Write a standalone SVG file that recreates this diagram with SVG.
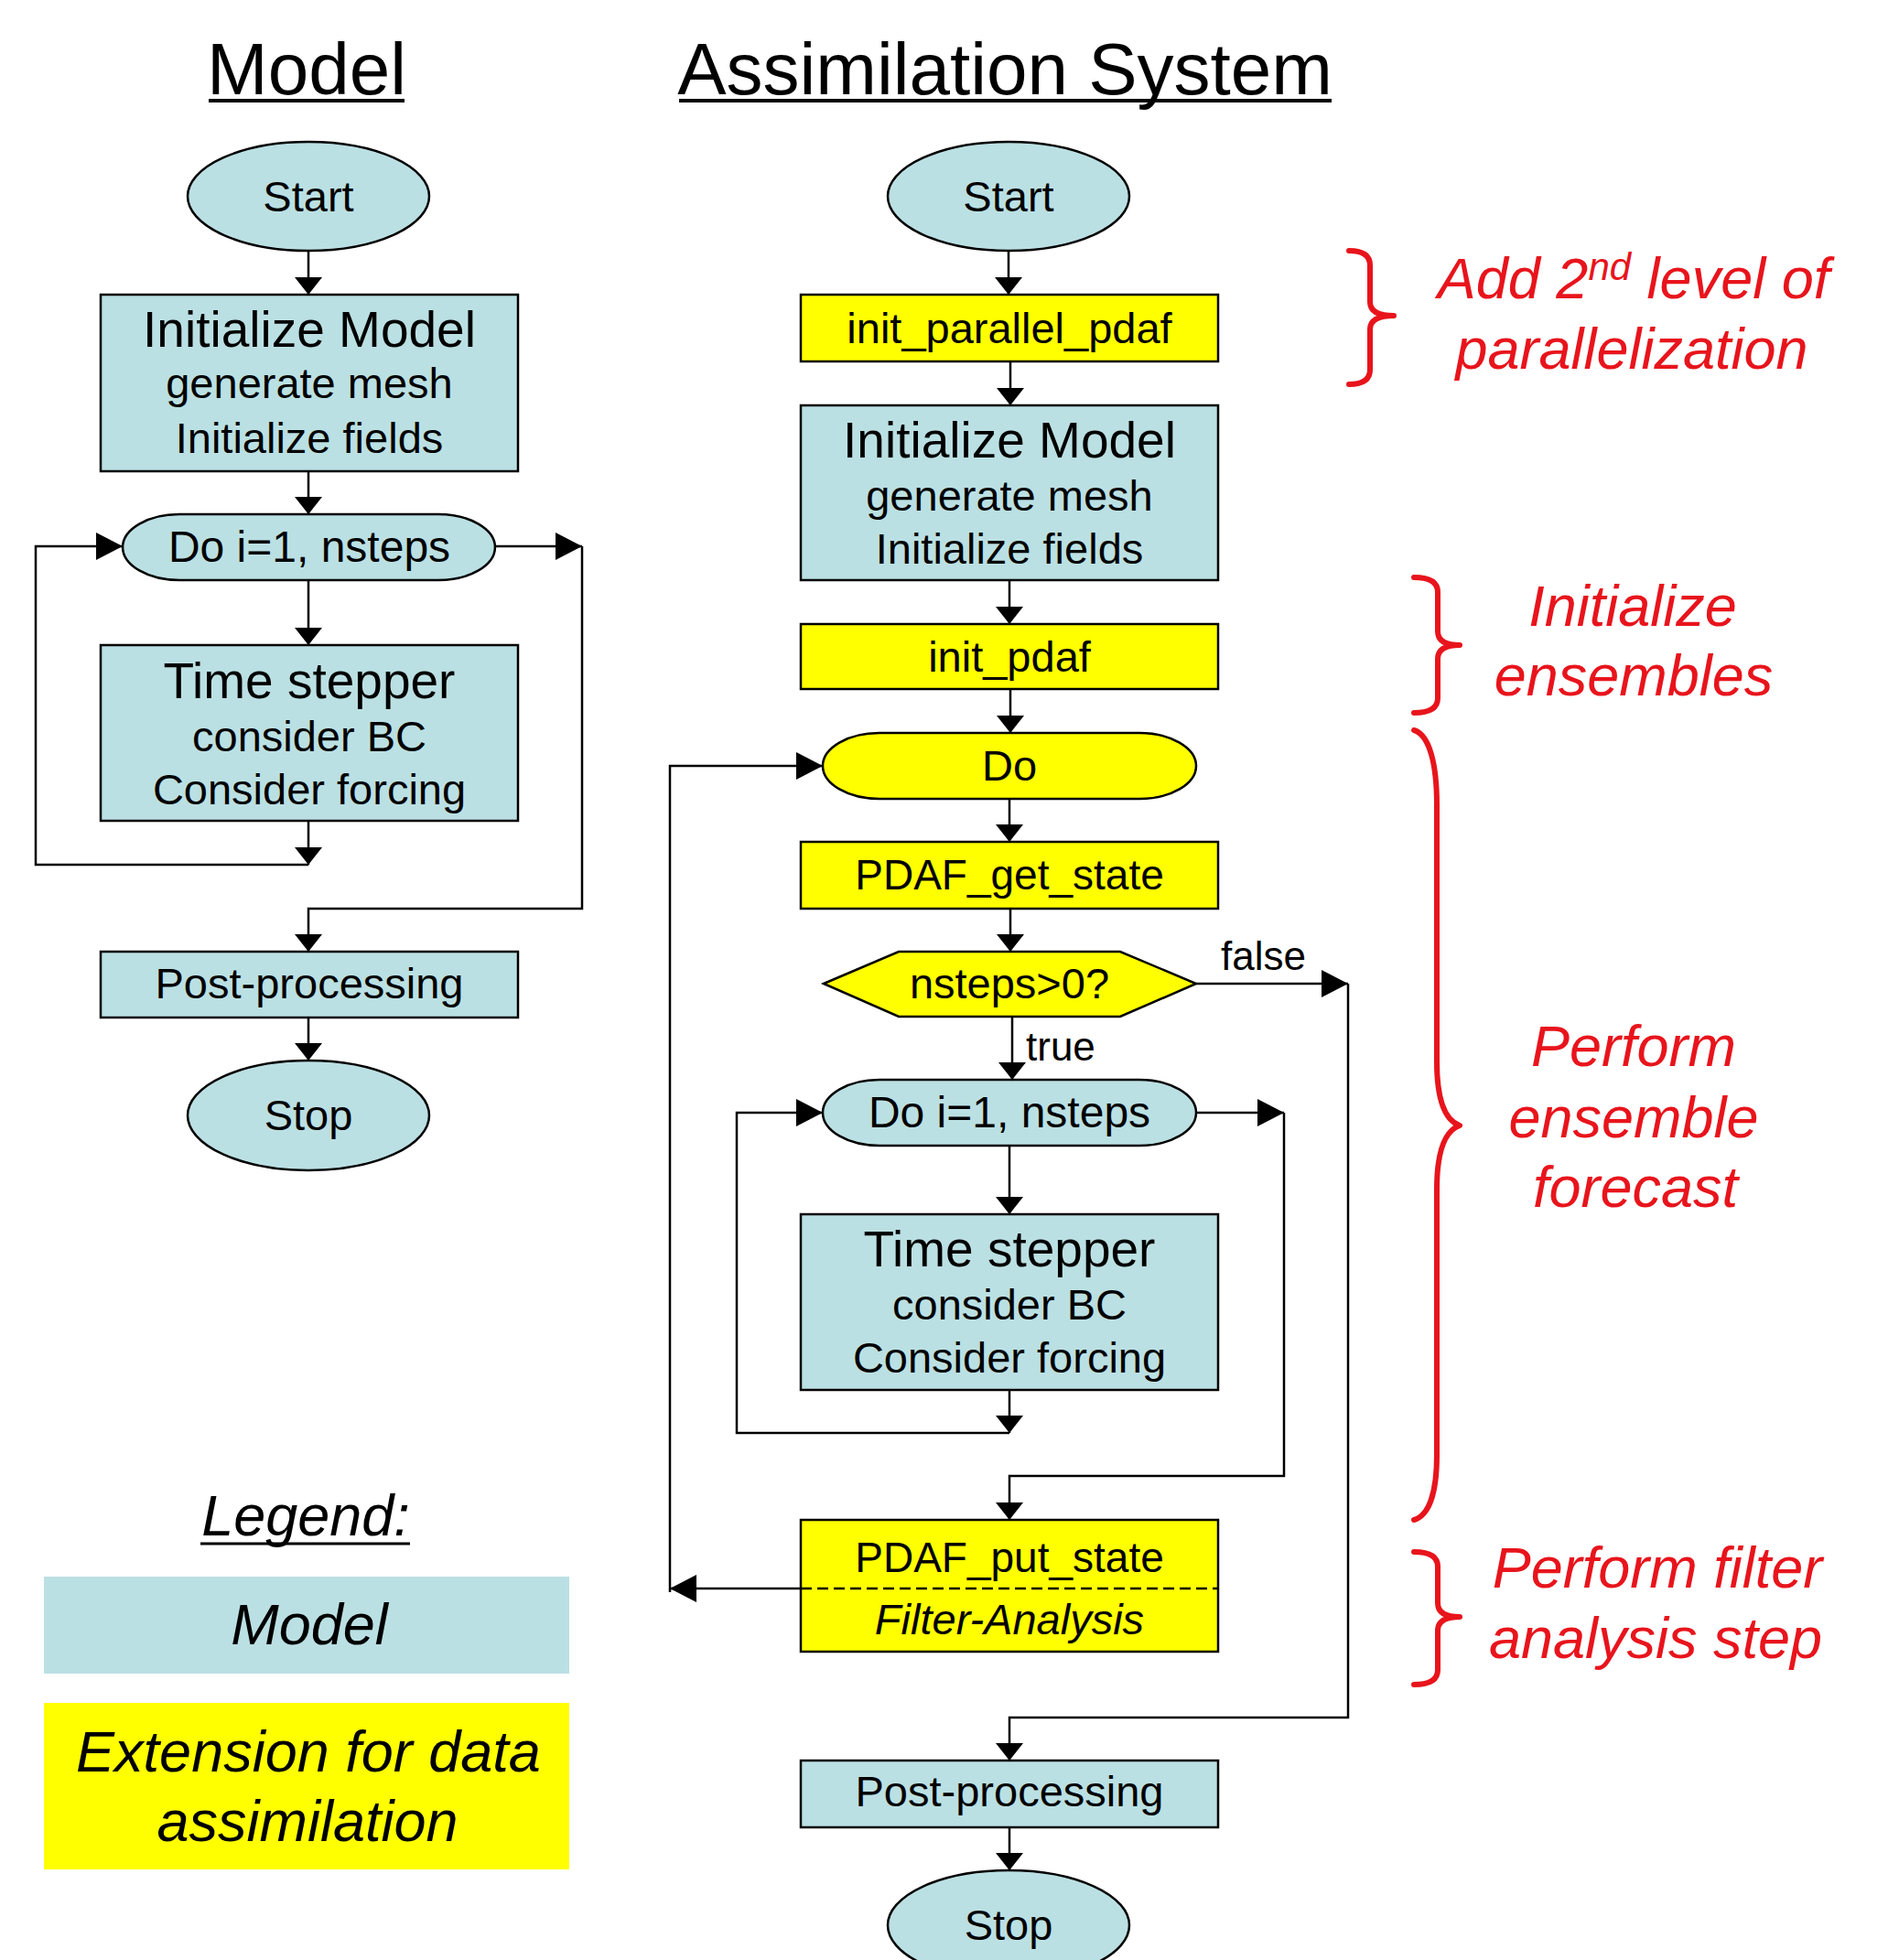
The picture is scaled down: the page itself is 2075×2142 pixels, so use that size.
<svg xmlns="http://www.w3.org/2000/svg" width="2075" height="2142" viewBox="0 0 2075 2142">
<style>
text{font-family:"Liberation Sans",Arial,sans-serif;fill:#000}
.m{text-anchor:middle}
.t{font-size:55px}
.s{font-size:47px}
.r{fill:#e8141c;font-style:italic;font-size:63px;text-anchor:middle}
.it{font-style:italic}
.teal{fill:#bbe0e3;stroke:#000;stroke-width:2.5}
.yel{fill:#ffff00;stroke:#000;stroke-width:2.5}
.c{fill:none;stroke:#000;stroke-width:2.5}
.br{fill:none;stroke:#e8141c;stroke-width:6;stroke-linecap:round;stroke-linejoin:round}
</style>
<defs>
<marker id="mv" markerUnits="userSpaceOnUse" markerWidth="20" markerHeight="32" refX="19" refY="15" orient="auto"><path d="M0,0 L19,15 L0,30 z" fill="#000"/></marker>
<marker id="mh" markerUnits="userSpaceOnUse" markerWidth="30" markerHeight="32" refX="29" refY="15" orient="auto"><path d="M0,0 L29,15 L0,30 z" fill="#000"/></marker>
</defs>
<rect width="2075" height="2142" fill="#fff"/>

<g id="titles">
<text x="335" y="103" class="m" font-size="80">Model</text>
<line x1="228" y1="110" x2="442" y2="110" stroke="#000" stroke-width="4"/>
<text x="1098" y="103" class="m" font-size="80">Assimilation System</text>
<line x1="742" y1="110" x2="1455" y2="110" stroke="#000" stroke-width="4"/>
</g>

<g id="connectors">
<line class="c" x1="337" y1="274" x2="337" y2="322" marker-end="url(#mv)"/>
<line class="c" x1="337" y1="515" x2="337" y2="562" marker-end="url(#mv)"/>
<line class="c" x1="337" y1="634" x2="337" y2="705" marker-end="url(#mv)"/>
<line class="c" x1="337" y1="897" x2="337" y2="945" marker-end="url(#mv)"/>
<path class="c" d="M337,945 H39 V597 H134" marker-end="url(#mh)"/>
<line class="c" x1="541" y1="597" x2="636" y2="597" marker-end="url(#mh)"/>
<path class="c" d="M636,597 V993 H337 V1040" marker-end="url(#mv)"/>
<line class="c" x1="337" y1="1112" x2="337" y2="1159" marker-end="url(#mv)"/>

<line class="c" x1="1102" y1="274" x2="1102" y2="322" marker-end="url(#mv)"/>
<line class="c" x1="1104" y1="395" x2="1104" y2="443" marker-end="url(#mv)"/>
<line class="c" x1="1103" y1="634" x2="1103" y2="682" marker-end="url(#mv)"/>
<line class="c" x1="1104" y1="753" x2="1104" y2="801" marker-end="url(#mv)"/>
<line class="c" x1="1103" y1="873" x2="1103" y2="920" marker-end="url(#mv)"/>
<line class="c" x1="1104" y1="993" x2="1104" y2="1040" marker-end="url(#mv)"/>
<line class="c" x1="1106" y1="1111" x2="1106" y2="1180" marker-end="url(#mv)"/>
<line class="c" x1="1307" y1="1075" x2="1473" y2="1075" marker-end="url(#mh)"/>
<path class="c" d="M1473,1075 V1877 H1103 V1924" marker-end="url(#mv)"/>
<line class="c" x1="1103" y1="1252" x2="1103" y2="1327" marker-end="url(#mv)"/>
<line class="c" x1="1103" y1="1519" x2="1103" y2="1566" marker-end="url(#mv)"/>
<path class="c" d="M1103,1566 H805 V1216 H899" marker-end="url(#mh)"/>
<line class="c" x1="1307" y1="1216" x2="1403" y2="1216" marker-end="url(#mh)"/>
<path class="c" d="M1403,1216 V1613 H1103 V1661" marker-end="url(#mv)"/>
<line class="c" x1="875" y1="1736" x2="732" y2="1736" marker-end="url(#mh)"/>
<path class="c" d="M732,1740 V837 H899" marker-end="url(#mh)"/>
<line class="c" x1="1103" y1="1997" x2="1103" y2="2044" marker-end="url(#mv)"/>
<text x="1334" y="1060" font-size="44">false</text>
<text x="1121" y="1159" font-size="44">true</text>
</g>

<g id="m-start"><ellipse class="teal" cx="337" cy="214.5" rx="132" ry="59.5"/><text x="337" y="231" class="m s">Start</text></g>
<g id="m-init"><rect class="teal" x="110" y="322" width="456" height="193"/>
<text x="338" y="379" class="m t">Initialize Model</text>
<text x="338" y="435" class="m s">generate mesh</text>
<text x="338" y="495" class="m s">Initialize fields</text></g>
<g id="m-do"><path class="teal" d="M196,562 H479 A62,36 0 0 1 479,634 H196 A62,36 0 0 1 196,562 Z"/><text x="338" y="614" class="m" font-size="48">Do i=1, nsteps</text></g>
<g id="m-time"><rect class="teal" x="110" y="705" width="456" height="192"/>
<text x="338" y="763" class="m t">Time stepper</text>
<text x="338" y="821" class="m s">consider BC</text>
<text x="338" y="879" class="m s">Consider forcing</text></g>
<g id="m-post"><rect class="teal" x="110" y="1040" width="456" height="72"/><text x="338" y="1091" class="m s">Post-processing</text></g>
<g id="m-stop"><ellipse class="teal" cx="337" cy="1219" rx="132" ry="60"/><text x="337" y="1235" class="m s">Stop</text></g>

<g id="a-start"><ellipse class="teal" cx="1102" cy="214.5" rx="132" ry="59.5"/><text x="1102" y="231" class="m s">Start</text></g>
<g id="a-initpar"><rect class="yel" x="875" y="322" width="456" height="73"/><text x="1103" y="375" class="m s">init_parallel_pdaf</text></g>
<g id="a-init"><rect class="teal" x="875" y="443" width="456" height="191"/>
<text x="1103" y="500" class="m t">Initialize Model</text>
<text x="1103" y="558" class="m s">generate mesh</text>
<text x="1103" y="616" class="m s">Initialize fields</text></g>
<g id="a-initpdaf"><rect class="yel" x="875" y="682" width="456" height="71"/><text x="1103" y="734" class="m s">init_pdaf</text></g>
<g id="a-do"><path class="yel" d="M961,801 H1245 A62,36 0 0 1 1245,873 H961 A62,36 0 0 1 961,801 Z"/><text x="1103" y="853" class="m s">Do</text></g>
<g id="a-get"><rect class="yel" x="875" y="920" width="456" height="73"/><text x="1103" y="972" class="m" font-size="46">PDAF_get_state</text></g>
<g id="a-cond"><polygon class="yel" points="900,1075 982,1040 1224,1040 1307,1075 1224,1111 982,1111"/><text x="1103" y="1091" class="m s">nsteps&gt;0?</text></g>
<g id="a-doi"><path class="teal" d="M961,1180 H1245 A62,36 0 0 1 1245,1252 H961 A62,36 0 0 1 961,1180 Z"/><text x="1103" y="1232" class="m" font-size="48">Do i=1, nsteps</text></g>
<g id="a-time"><rect class="teal" x="875" y="1327" width="456" height="192"/>
<text x="1103" y="1384" class="m t">Time stepper</text>
<text x="1103" y="1442" class="m s">consider BC</text>
<text x="1103" y="1500" class="m s">Consider forcing</text></g>
<g id="a-put"><rect class="yel" x="875" y="1661" width="456" height="144"/>
<line x1="875" y1="1736" x2="1331" y2="1736" stroke="#000" stroke-width="2.5" stroke-dasharray="12 6"/>
<text x="1103" y="1718" class="m" font-size="46">PDAF_put_state</text>
<text x="1103" y="1786" class="m s it">Filter-Analysis</text></g>
<g id="a-post"><rect class="teal" x="875" y="1924" width="456" height="73"/><text x="1103" y="1974" class="m s">Post-processing</text></g>
<g id="a-stop"><ellipse class="teal" cx="1102" cy="2104" rx="132" ry="60"/><text x="1102" y="2120" class="m s">Stop</text></g>

<g id="annotations">
<path class="br" d="M1474,274 Q1497,274 1497,290 V330 Q1497,345 1523,345 Q1497,345 1497,360 V404 Q1497,420 1474,420"/>
<text x="1785" y="326" class="r" font-size="63">Add 2<tspan font-size="42" dy="-20">nd</tspan><tspan dy="20"> level of</tspan></text>
<text x="1783" y="403" class="r">parallelization</text>
<path class="br" d="M1545,631 Q1571,631 1571,647 V690 Q1571,705 1595,705 Q1571,705 1571,720 V763 Q1571,779 1545,779"/>
<text x="1784" y="684" class="r">Initialize</text>
<text x="1785" y="760" class="r">ensembles</text>
<path class="br" d="M1545,798 C1562,803 1570,835 1570,880 V1160 C1570,1200 1578,1224 1595,1230 C1578,1236 1570,1260 1570,1300 V1590 C1570,1630 1562,1656 1545,1661"/>
<text x="1785" y="1165" class="r">Perform</text>
<text x="1785" y="1243" class="r">ensemble</text>
<text x="1787" y="1319" class="r">forecast</text>
<path class="br" d="M1545,1696 Q1571,1696 1571,1712 V1752 Q1571,1767 1595,1767 Q1571,1767 1571,1782 V1825 Q1571,1841 1545,1841"/>
<text x="1811" y="1735" class="r">Perform filter</text>
<text x="1809" y="1812" class="r">analysis step</text>
</g>

<g id="legend">
<text x="334" y="1678" class="m it" font-size="63">Legend:</text>
<line x1="219" y1="1687" x2="448" y2="1687" stroke="#000" stroke-width="3"/>
<rect x="48" y="1723" width="574" height="106" fill="#bbe0e3"/>
<text x="338" y="1797" class="m it" font-size="63">Model</text>
<rect x="48" y="1861" width="574" height="182" fill="#ffff00"/>
<text x="337" y="1936" class="m it" font-size="63">Extension for data</text>
<text x="336" y="2012" class="m it" font-size="63">assimilation</text>
</g>
</svg>
